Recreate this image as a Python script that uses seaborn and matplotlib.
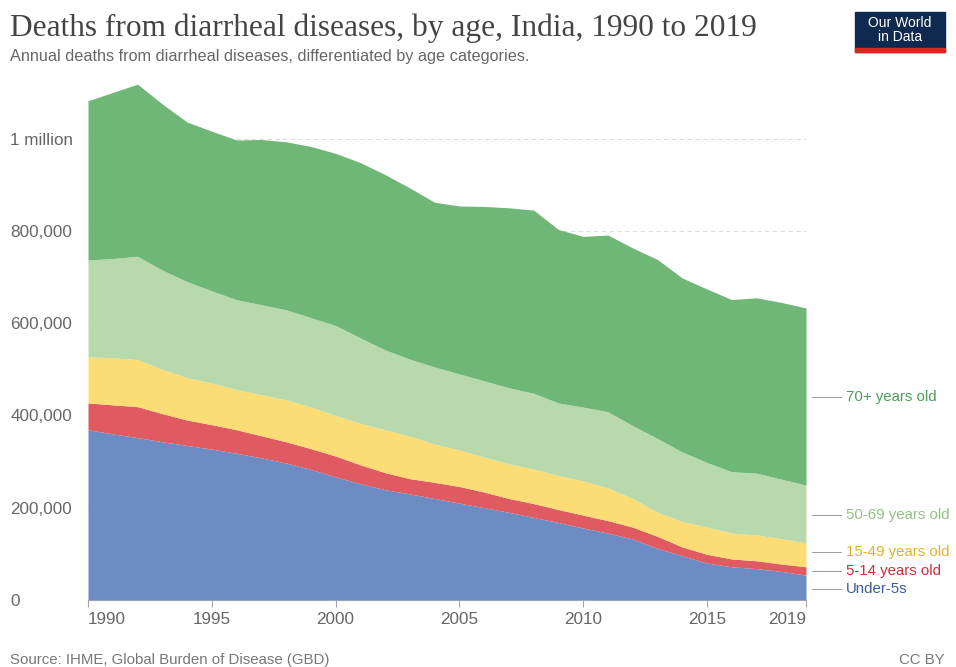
import numpy as np
import pandas as pd
import matplotlib
matplotlib.use("Agg")
import matplotlib.pyplot as plt
import seaborn as sns
from matplotlib.patches import Rectangle

# deaths per age group
years = list(range(1990, 2020))
under_5 = [369000, 360000, 352000, 343000, 335000, 327000, 318000, 308000, 297000, 283000,
           267000, 252000, 239000, 230000, 220000, 210000, 200000, 190000, 179000, 168000,
           156000, 145000, 132000, 112000, 96000, 80000, 72000, 68000, 62000, 54000]
age_5_14 = [58000, 63000, 67000, 61000, 55000, 53000, 51000, 48000, 46000, 45000,
            45000, 41000, 37000, 33000, 35000, 36000, 34000, 30000, 30000, 28000,
            28000, 27000, 26000, 26000, 19000, 19000, 17000, 17000, 16000, 18000]
age_15_49 = [100000, 102000, 102000, 96000, 92000, 90000, 87000, 89000, 91000, 90000,
             88000, 90000, 93000, 92000, 83000, 79000, 76000, 75000, 75000, 74000,
             74000, 71000, 62000, 52000, 55000, 59000, 56000, 56000, 55000, 52000]
age_50_69 = [210000, 215000, 224000, 215000, 208000, 200000, 195000, 195000, 195000, 194000,
             195000, 185000, 173000, 167000, 167000, 165000, 165000, 165000, 164000, 157000,
             160000, 165000, 158000, 160000, 151000, 140000, 133000, 134000, 129000, 125000]
age_70_plus = [345000, 360000, 373000, 360000, 346000, 346000, 346000, 358000, 364000, 371000,
               373000, 380000, 380000, 371000, 357000, 364000, 378000, 390000, 397000, 376000,
               370000, 383000, 385000, 388000, 377000, 376000, 373000, 380000, 383000, 384000]

groups = ["Under-5s", "5-14 years old", "15-49 years old", "50-69 years old", "70+ years old"]
fill_colors = ["#6c8cc3", "#df5a61", "#fcdc74", "#b8d9ab", "#6fb777"]
text_colors = ["#3d5b9e", "#cf2f3a", "#e3b22a", "#96bf88", "#4f9a5c"]

y_ticks = [0, 200000, 400000, 600000, 800000, 1000000]
y_tick_labels = ["0", "200,000", "400,000", "600,000", "800,000", "1 million"]
x_ticks = [1990, 1995, 2000, 2005, 2010, 2015, 2019]

df = pd.DataFrame({"year": years, groups[0]: under_5, groups[1]: age_5_14,
                   groups[2]: age_15_49, groups[3]: age_50_69, groups[4]: age_70_plus})

sns.set_theme(style="white")
plt.rcParams["font.family"] = ["Liberation Sans", "DejaVu Sans"]

fig = plt.figure(figsize=(9.56, 6.67), dpi=100)
ax = fig.add_axes([88 / 956, 1 - 600 / 667, (806 - 88) / 956, (600 - 74) / 667])

ax.stackplot(df["year"], [df[g] for g in groups], colors=sns.color_palette(fill_colors),
             linewidth=0)
ax.set_xlim(1990, 2019)
ax.set_ylim(0, 1140000)

for v in y_ticks[1:]:
    ax.axhline(v, color="#dddddd", lw=0.8, ls=(0, (4, 3)), zorder=0)

ax.set_yticks(y_ticks)
ax.set_yticklabels(y_tick_labels)
ax.tick_params(axis="y", length=0, pad=56, labelsize=12.3, labelcolor="#666666")
for lab in ax.get_yticklabels():
    lab.set_horizontalalignment("left")

ax.set_xticks(x_ticks)
ax.set_xticklabels([str(x) for x in x_ticks])
ax.tick_params(axis="x", length=5, width=0.8, color="#9aa5b8", pad=4,
               labelsize=12.3, labelcolor="#666666", bottom=True)
xl = ax.get_xticklabels()
xl[0].set_horizontalalignment("left")
xl[-1].set_horizontalalignment("right")

sns.despine(ax=ax, left=True, top=True, right=True)
ax.spines["bottom"].set_color("#9aa5b8")
ax.spines["bottom"].set_linewidth(0.8)

# right-hand labels with leader lines
label_y = [589, 571, 552, 515, 397]  # pixel rows for labels
for g, c, ypix in zip(groups, text_colors, label_y):
    fig.text(846 / 956, 1 - ypix / 667, g, va="center", ha="left", fontsize=10.8, color=c)
    fig.add_artist(plt.Line2D([812 / 956, 841 / 956], [1 - ypix / 667, 1 - ypix / 667],
                              color="#999999", lw=0.7))

# titles
fig.text(10 / 956, 1 - 28 / 667, "Deaths from diarrheal diseases, by age, India, 1990 to 2019",
         family=["Liberation Serif", "DejaVu Serif"], fontsize=22.6, color="#444444", va="center")
fig.text(10 / 956, 1 - 56 / 667,
         "Annual deaths from diarrheal diseases, differentiated by age categories.",
         fontsize=11.7, color="#666666", va="center")
fig.text(10 / 956, 1 - 660 / 667, "Source: IHME, Global Burden of Disease (GBD)",
         fontsize=10.8, color="#777777", va="center")
fig.text(945 / 956, 1 - 660 / 667, "CC BY", fontsize=10.8, color="#777777", va="center", ha="right")

# logo
fig.add_artist(Rectangle((855 / 956, 1 - 52 / 667), 90 / 956, 40 / 667,
                         transform=fig.transFigure, color="#0f2a4e"))
fig.add_artist(Rectangle((855 / 956, 1 - 52 / 667), 90 / 956, 4 / 667,
                         transform=fig.transFigure, color="#d42b21"))
fig.text(900 / 956, 1 - 30 / 667, "Our World\nin Data", color="white", fontsize=10,
         ha="center", va="center", linespacing=0.95)

fig.savefig("out.png", dpi=100)
